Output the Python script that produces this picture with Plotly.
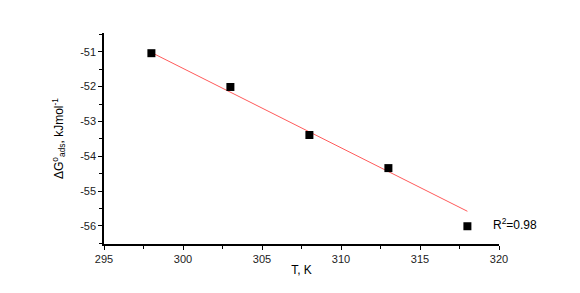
import plotly.graph_objects as go

# Data
T = [298, 303, 308, 313, 318]
dG = [-51.04, -52.01, -53.39, -54.34, -56.01]
fit_T = [298, 318]
fit_dG = [-51.02, -55.58]
x_ticks = [295, 300, 305, 310, 315, 320]
y_ticks = [-51, -52, -53, -54, -55, -56]
y_tick_text = ["-51", "-52", "-53", "-54", "-55", "-56"]

font = "Liberation Sans, Arial, sans-serif"

fig = go.Figure()
fig.add_trace(go.Scatter(x=fit_T, y=fit_dG, mode="lines",
                         line=dict(color="#ff5a5a", width=1), showlegend=False))
fig.add_trace(go.Scatter(x=T, y=dG, mode="markers",
                         marker=dict(symbol="square", size=8, color="black",
                                     line=dict(width=0)),
                         showlegend=False))

fig.add_annotation(x=0.98, y=-55.95, xref="paper", yref="y", text="R<sup>2</sup>=0.98",
                   showarrow=False, xanchor="left", yanchor="middle",
                   font=dict(family=font, size=12, color="black"))

axis_common = dict(showgrid=False, zeroline=False, showline=True, linecolor="black",
                   linewidth=1.5, ticks="outside", ticklen=4, tickwidth=1.2,
                   tickcolor="black", tickfont=dict(family=font, size=11, color="#222"),
                   mirror=False)

fig.update_xaxes(range=[295, 320], tickvals=x_ticks,
                 minor=dict(ticks="outside", ticklen=3, tickcolor="black", dtick=2.5, tick0=295),
                 title=dict(text="T, K", font=dict(family=font, size=12, color="black"), standoff=2),
                 **axis_common)
fig.update_yaxes(range=[-56.52, -50.46], tickvals=y_ticks, ticktext=y_tick_text,
                 minor=dict(ticks="outside", ticklen=3, tickcolor="black", dtick=0.5, tick0=-51),
                 title=dict(text="ΔG<sup>o</sup><sub>ads</sub>, kJmol<sup>-1</sup>",
                            font=dict(family=font, size=12, color="black"), standoff=14),
                 **axis_common)

fig.update_layout(width=580, height=293, margin=dict(l=104, r=81, t=33, b=49),
                  plot_bgcolor="white", paper_bgcolor="white",
                  font=dict(family=font))

fig.write_html("out.html")
